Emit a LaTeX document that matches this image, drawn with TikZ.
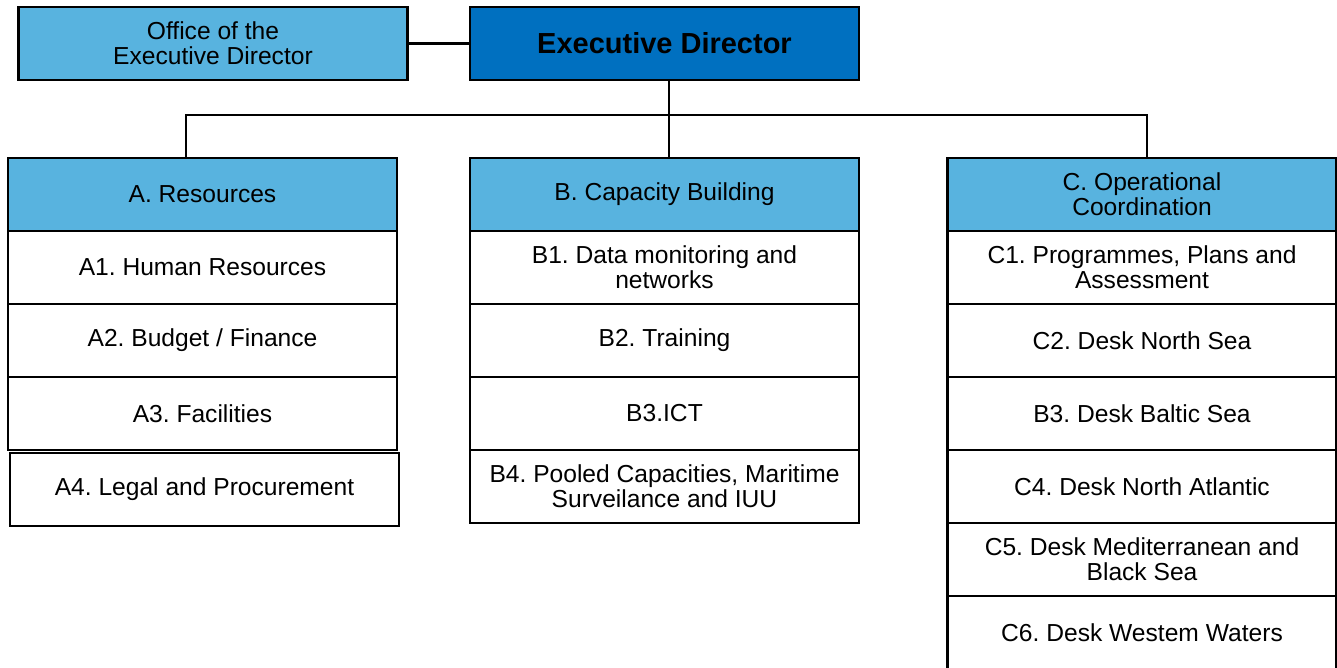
\documentclass[tikz,border=0pt]{standalone}
\usepackage{fontspec}
\setmainfont{Liberation Sans}
\usetikzlibrary{positioning}

\definecolor{unitblue}{RGB}{88,179,223}
\definecolor{headblue}{RGB}{0,112,192}

\tikzset{
	unitbox/.style={draw=black, line width=1.4pt, fill=white, outer sep=0pt, inner sep=2pt,
		minimum width=7.78cm, minimum height=1.46cm, align=center,
		font=\fontsize{14}{14.2}\selectfont},
	headbox/.style={unitbox, fill=unitblue},
	topbox/.style={unitbox, fill=headblue, font=\fontsize{16.5}{18}\selectfont\bfseries},
	link/.style={draw=black, line width=1.4pt}
}

\begin{document}
\frenchspacing
\begin{tikzpicture}[x=0.02cm, y=-0.02cm]
				\useasboundingbox (0,0) rectangle (1337,668);
				%draw top level
				\node[headbox] (office) at (213,43.5) {Office of the\\Executive Director};
				\node[topbox] (ed) at (664.5,43.5) {Executive Director};
				%draw department headers
				\node[headbox] (ahead) at (202.5,194.5) {A. Resources};
				\node[headbox] (bhead) at (664.5,194.5) {B. Capacity Building};
				\node[headbox] (chead) at (1142,194.5) {C. Operational\\Coordination};
				%draw units of A
				\node[unitbox, below=0pt of ahead] (a1) {A1. Human Resources};
				\node[unitbox, below=0pt of a1] (a2) {A2. Budget / Finance};
				\node[unitbox, below=0pt of a2] (a3) {A3. Facilities};
				\node[unitbox] (a4) at (204.5,489.5) {A4. Legal and Procurement};
				%draw units of B
				\node[unitbox, below=0pt of bhead] (b1) {B1. Data monitoring and\\networks};
				\node[unitbox, below=0pt of b1] (b2) {B2. Training};
				\node[unitbox, below=0pt of b2] (b3) {B3.ICT};
				\node[unitbox, below=0pt of b3] (b4) {B4. Pooled Capacities, Maritime\\Surveilance and IUU};
				%draw units of C
				\node[unitbox, below=0pt of chead] (c1) {C1. Programmes, Plans and\\Assessment};
				\node[unitbox, below=0pt of c1] (c2) {C2. Desk North Sea};
				\node[unitbox, below=0pt of c2] (c3) {B3. Desk Baltic Sea};
				\node[unitbox, below=0pt of c3] (c4) {C4. Desk North Atlantic};
				\node[unitbox, below=0pt of c4] (c5) {C5. Desk Mediterranean and\\Black Sea};
				\node[unitbox, below=0pt of c5] (c6) {C6. Desk Westem Waters};
				%draw connectors
				\coordinate (bar) at (669,115);
				\draw[link] (office) -- (ed);
				\draw[link] ([xshift=0.09cm]ed.south) -- ([xshift=0.09cm]bhead.north);
				\draw[link] ([xshift=-0.33cm]ahead.north) |- (bar) -| ([xshift=0.1cm]chead.north);
\end{tikzpicture}
\end{document}
